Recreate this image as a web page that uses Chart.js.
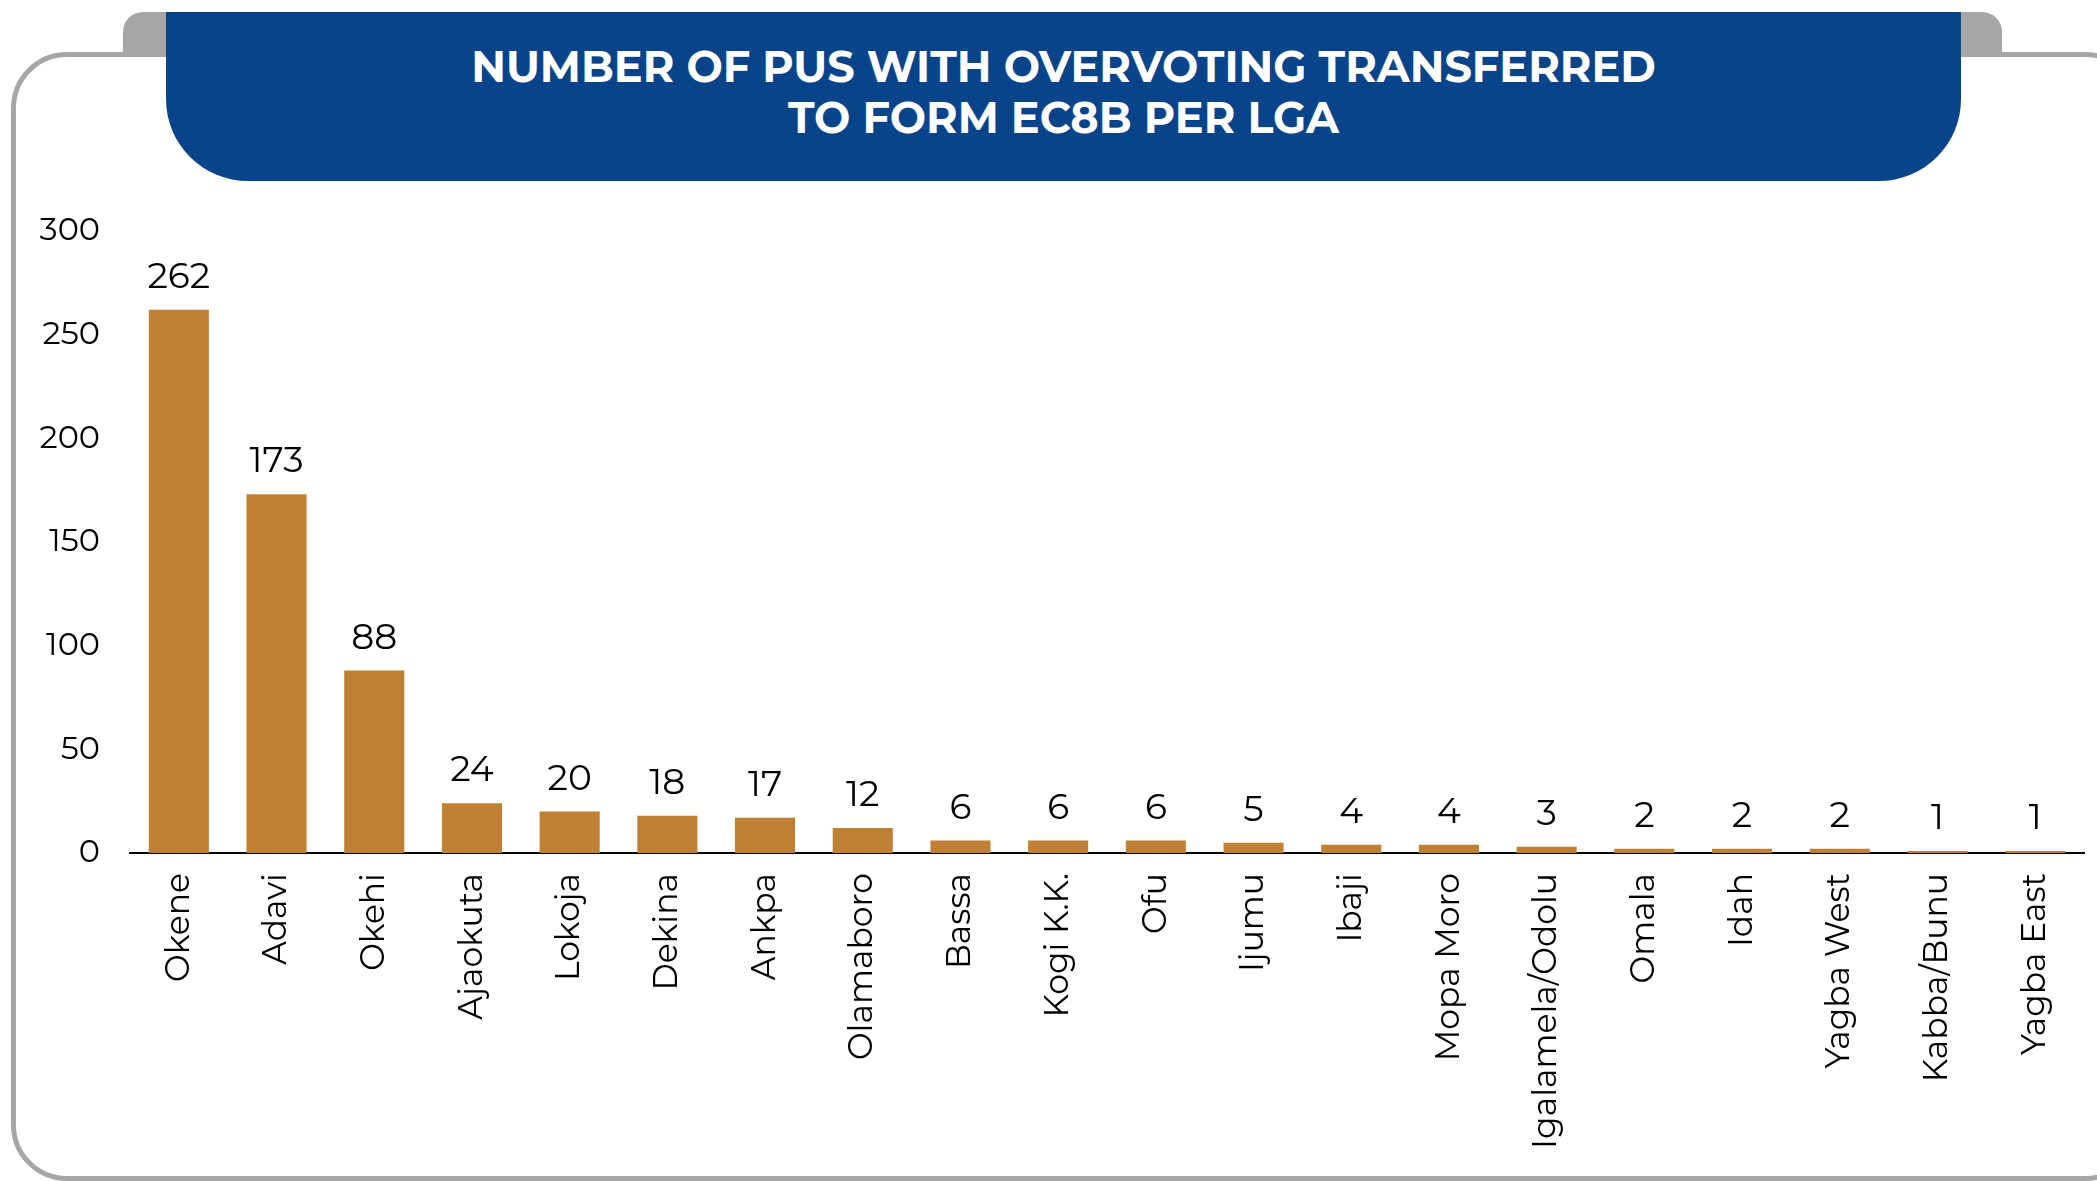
<!DOCTYPE html>
<html>
<head>
<meta charset="utf-8">
<script src="https://cdn.jsdelivr.net/npm/chart.js@4.4.1/dist/chart.umd.min.js"></script>
<style>
  html, body { margin: 0; padding: 0; background: #fff; }
  body { width: 2097px; height: 1181px; position: relative; overflow: hidden; font-family: "Montserrat", "Noto Sans", sans-serif; }
  .frame {
    position: absolute; left: 11px; top: 52px; width: 2130px; height: 1129px;
    box-sizing: border-box; border: 5px solid #a6a6a6; border-radius: 56px;
  }
  .tab {
    position: absolute; left: 123px; top: 12px; width: 1879px; height: 45px;
    background: #a6a6a6; border-radius: 20px 20px 0 0;
  }
  .header {
    position: absolute; left: 166px; top: 12px; width: 1795px; height: 169px;
    background: #09448a; border-radius: 0 0 82px 82px;
    color: #fff; font-weight: 700; font-size: 43px; line-height: 51px;
    text-align: center; box-sizing: border-box; padding-top: 29px;
  }
  #chart { position: absolute; left: 0; top: 0; }
</style>
</head>
<body>
<div class="frame"></div>
<div class="tab"></div>
<div class="header">NUMBER OF PUS WITH OVERVOTING TRANSFERRED<br>TO FORM EC8B PER LGA</div>
<canvas id="chart" width="2097" height="1181"></canvas>
<script>
  // LGAs, left to right
  const lgas = ['Okene', 'Adavi', 'Okehi', 'Ajaokuta', 'Lokoja', 'Dekina', 'Ankpa', 'Olamaboro', 'Bassa',
    'Kogi K.K.', 'Ofu', 'Ijumu', 'Ibaji', 'Mopa Moro', 'Igalamela/Odolu', 'Omala', 'Idah', 'Yagba West',
    'Kabba/Bunu', 'Yagba East'];
  // number of PUs per LGA
  const pus = [262, 173, 88, 24, 20, 18, 17, 12, 6, 6, 6, 5, 4, 4, 3, 2, 2, 2, 1, 1];
  // y axis
  const yMin = 0;
  const yMax = 300;
  const yStep = 50;

  const FONT = '"Montserrat", "Noto Sans", sans-serif';

  // value labels above bars
  const valueLabels = {
    id: 'valueLabels',
    afterDatasetsDraw(chart) {
      const ctx = chart.ctx;
      const meta = chart.getDatasetMeta(0);
      ctx.save();
      ctx.fillStyle = '#000';
      ctx.font = '36px ' + FONT;
      ctx.textAlign = 'center';
      ctx.textBaseline = 'alphabetic';
      meta.data.forEach((bar, i) => {
        ctx.fillText(String(pus[i]), bar.x, bar.y - 22);
      });
      ctx.restore();
    }
  };

  new Chart(document.getElementById('chart'), {
    type: 'bar',
    data: {
      labels: lgas,
      datasets: [{
        data: pus,
        backgroundColor: '#c08033',
        borderWidth: 0,
        categoryPercentage: 1,
        barPercentage: 0.615
      }]
    },
    options: {
      responsive: false,
      animation: false,
      layout: { padding: { left: 0, right: 13, top: 231, bottom: 0 } },
      plugins: {
        legend: { display: false },
        tooltip: { enabled: false }
      },
      scales: {
        x: {
          grid: { display: false, drawTicks: false },
          border: { display: true, color: '#000', width: 2 },
          ticks: {
            color: '#000',
            font: { family: FONT, size: 33 },
            minRotation: 90,
            maxRotation: 90,
            autoSkip: false,
            padding: 20
          },
          afterFit(scale) { scale.height = 328; }
        },
        y: {
          min: yMin,
          max: yMax,
          grid: { display: false, drawTicks: false },
          border: { display: false },
          ticks: {
            stepSize: yStep,
            color: '#000',
            font: { family: FONT, size: 32 },
            padding: 30
          },
          afterFit(scale) { scale.width = 130; }
        }
      }
    },
    plugins: [valueLabels]
  });
</script>
</body>
</html>
